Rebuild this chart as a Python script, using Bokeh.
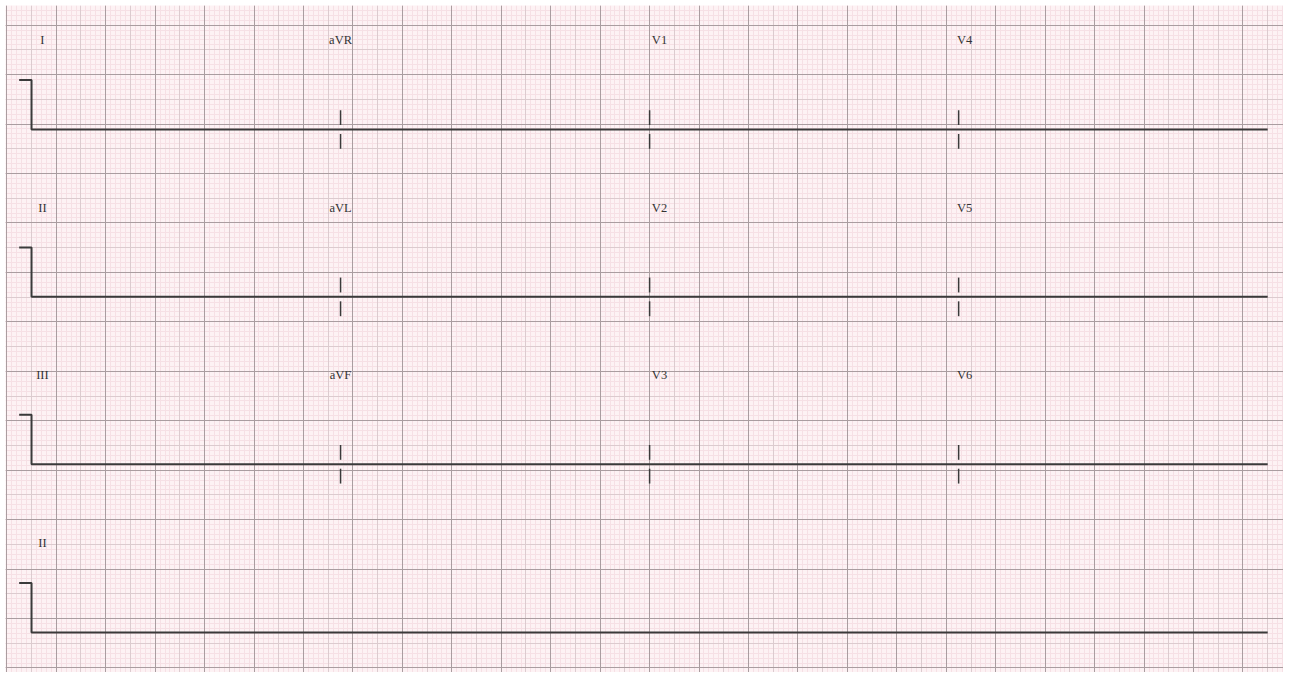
from bokeh.plotting import figure
from bokeh.models import Grid, SingleIntervalTicker, ColumnDataSource
from bokeh.core.properties import value
from bokeh.embed import file_html
from bokeh.resources import INLINE

# ---------------- data ----------------
lead_rows = [
    ["I", "aVR", "V1", "V4"],
    ["II", "aVL", "V2", "V5"],
    ["III", "aVF", "V3", "V6"],
    ["II"],
]
segment_start_s = [0.0, 2.5, 5.0, 7.5]   # lead change times
record_end_s = 10.0
row_trace_mv = [0.0, 0.0, 0.0, 0.0]      # flat traces (no signal)
cal_mv = 1.0                             # calibration pulse
cal_dur_s = 0.1

# ---------------- paper layout ----------------
MM_PER_S = 25.0
MM_PER_MV = 10.0
trace_x0_mm = 5.0
row_base_mm = [108.9, 75.05, 41.2, 7.2]
label_dx_mm = [2.2, 0.0, 2.0, 1.2]
label_dy_mm = 18.0

p = figure(width=1283, height=672, x_range=(-0.263, 258.2), y_range=(-0.91, 133.97),
           output_backend="svg", toolbar_location=None,
           x_axis_type=None, y_axis_type=None, min_border=0,
           min_border_left=5, min_border_top=5,
           background_fill_color="#fdf2f4", border_fill_color="white",
           outline_line_color=None)
p.xgrid.visible = False
p.ygrid.visible = False

for dim in (0, 1):
    p.add_layout(Grid(dimension=dim, ticker=SingleIntervalTicker(interval=1),
                      grid_line_color="#f6e0e5", grid_line_width=1))
for dim in (0, 1):
    p.add_layout(Grid(dimension=dim, ticker=SingleIntervalTicker(interval=5),
                      grid_line_color="#dccbcf", grid_line_width=1))
for dim in (0, 1):
    p.add_layout(Grid(dimension=dim, ticker=SingleIntervalTicker(interval=10),
                      grid_line_color="#aa9da0", grid_line_width=1))

def tx(t):
    return trace_x0_mm + t * MM_PER_S

trace_color = "#3a3a3a"
lab_x, lab_y, lab_t = [], [], []
tick_x0, tick_y0, tick_x1, tick_y1 = [], [], [], []
for r, leads in enumerate(lead_rows):
    base = row_base_mm[r]
    sig = base + row_trace_mv[r] * MM_PER_MV
    top = base + cal_mv * MM_PER_MV
    xs = [tx(-cal_dur_s), tx(0), tx(0), tx(record_end_s)]
    ys = [top, top, sig, sig]
    p.line(xs, ys, line_color=trace_color, line_width=2)
    for c, name in enumerate(leads):
        lab_x.append(tx(segment_start_s[c]) + label_dx_mm[c])
        lab_y.append(base + label_dy_mm)
        lab_t.append(name)
        if c > 0:
            x = tx(segment_start_s[c])
            tick_x0 += [x, x]
            tick_x1 += [x, x]
            tick_y0 += [sig + 0.9, sig - 0.9]
            tick_y1 += [sig + 3.9, sig - 3.9]

p.segment(tick_x0, tick_y0, tick_x1, tick_y1, line_color=trace_color, line_width=1.5)

src = ColumnDataSource(dict(x=lab_x, y=lab_y, t=lab_t))
p.text(x="x", y="y", text="t", source=src, text_font=value("Liberation Serif"),
       text_font_size="12.5px", text_color="#333333", text_align="center",
       text_baseline="middle")

open("out.html", "w").write(file_html(p, INLINE))
